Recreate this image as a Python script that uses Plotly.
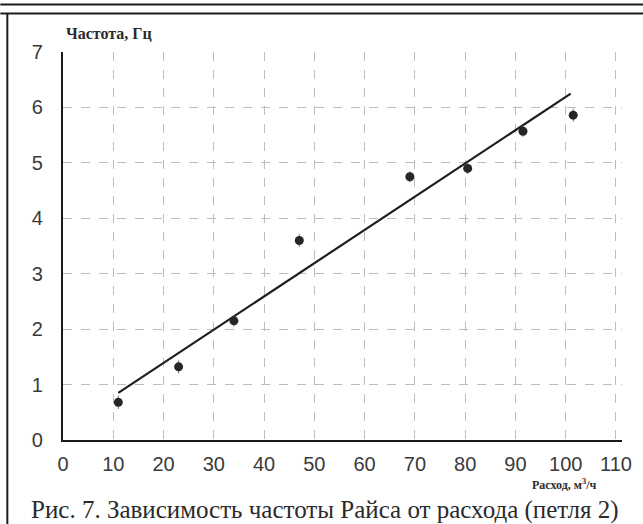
import plotly.graph_objects as go

# Measured Rice frequency vs. flow rate (loop 2)
flow = [11, 23, 34, 47, 69, 80.5, 91.5, 101.5]
freq = [0.68, 1.32, 2.15, 3.6, 4.75, 4.9, 5.57, 5.86]
freq_err = [0.12, 0.12, 0.1, 0.12, 0.1, 0.1, 0.1, 0.12]

# Linear trend line end points
fit_flow = [11, 101]
fit_freq = [0.85, 6.25]

x_ticks = [0, 10, 20, 30, 40, 50, 60, 70, 80, 90, 100, 110]
y_ticks = [0, 1, 2, 3, 4, 5, 6, 7]

y_title = "Частота, Гц"
x_title = "Расход, м<sup>3</sup>/ч"
caption = "Рис. 7. Зависимость частоты Райса от расхода (петля 2)"

fig = go.Figure()

fig.add_trace(go.Scatter(
    x=fit_flow, y=fit_freq, mode="lines",
    line=dict(color="#1e1e1e", width=2.2),
    hoverinfo="skip", showlegend=False,
))

fig.add_trace(go.Scatter(
    x=flow, y=freq, mode="markers",
    marker=dict(color="#262626", size=9),
    error_y=dict(type="data", array=freq_err, color="#777777",
                 thickness=1, width=0),
    showlegend=False,
))

grid = dict(showgrid=True, gridcolor="#bdbdbd", gridwidth=1, griddash="dash")

fig.update_xaxes(
    range=[0, 111.2], tickvals=x_ticks, ticktext=[str(v) for v in x_ticks],
    showline=True, linecolor="#1a1a1a", linewidth=2.2,
    ticks="", ticklabelstandoff=5, zeroline=False,
    tickfont=dict(family="Liberation Sans", size=20, color="#3a3a3a"),
    **grid,
)
fig.update_yaxes(
    range=[0, 7], tickvals=y_ticks,
    showline=True, linecolor="#1a1a1a", linewidth=2.2,
    ticks="", ticklabelstandoff=14, zeroline=False,
    tickfont=dict(family="Liberation Sans", size=20, color="#3a3a3a"),
    **grid,
)

# Plot area in pixels: x 62.7..622, y 51.5..440 in a 643x524 page
L, R, T, B = 62.7, 622.0, 51.5, 440.0
W, H = R - L, B - T


def px(p):
    return (p - L) / W


def py(q):
    return (B - q) / H


frame = dict(color="#1c1c1c", width=2)
fig.add_shape(type="line", xref="paper", yref="paper",
              x0=px(0), x1=px(643), y0=py(4), y1=py(4), line=frame)
fig.add_shape(type="line", xref="paper", yref="paper",
              x0=px(0), x1=px(643), y0=py(13), y1=py(13), line=frame)
fig.add_shape(type="line", xref="paper", yref="paper",
              x0=px(7), x1=px(7), y0=py(13), y1=py(524), line=frame)

fig.add_annotation(
    text=y_title, xref="paper", yref="paper", x=px(64), y=py(33),
    xanchor="left", yanchor="middle", showarrow=False,
    font=dict(family="Liberation Serif", size=16, color="#2a2a2a", weight="bold"),
)
fig.add_annotation(
    text=x_title, xref="paper", yref="paper", x=px(598), y=py(485),
    xanchor="right", yanchor="middle", showarrow=False,
    font=dict(family="Liberation Serif", size=12, color="#2a2a2a", weight="bold"),
)
fig.add_annotation(
    text=caption, xref="paper", yref="paper", x=px(325), y=py(510),
    xanchor="center", yanchor="middle", showarrow=False,
    font=dict(family="Liberation Serif", size=25, color="#2a2a2a"),
)

fig.update_layout(
    width=643, height=524,
    margin=dict(l=L, r=643 - R, t=T, b=524 - B),
    paper_bgcolor="white", plot_bgcolor="white",
)

fig.write_html("out.html")
